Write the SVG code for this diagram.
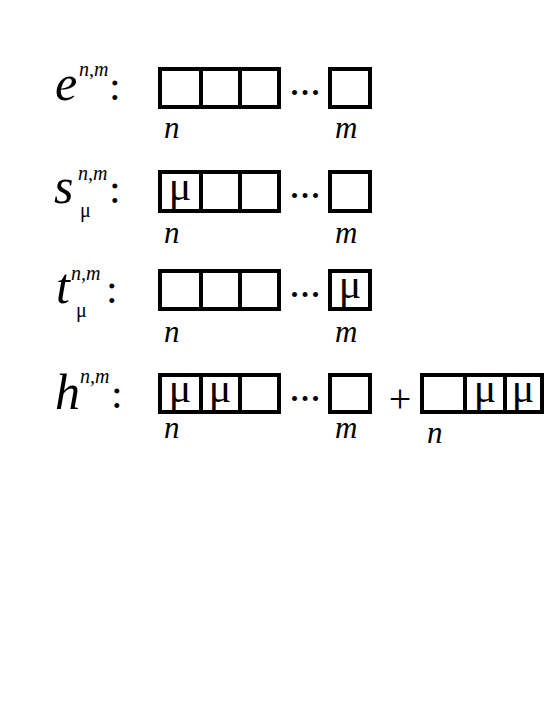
<svg xmlns="http://www.w3.org/2000/svg" width="554" height="717" viewBox="0 0 554 717">
<style>
.box{fill:none;stroke:#000;stroke-width:4}
.div{stroke:#000;stroke-width:4}
text{font-family:'Liberation Serif','Times New Roman',serif;fill:#000}
.it{font-style:italic}
.big{font-size:50px}
.sup{font-size:20px}
.sub{font-size:20px}
.col{font-size:42px}
.idx{font-size:31px}
.mu{font-size:42px;text-anchor:middle}
.dots{font-size:42px;text-anchor:middle}
.plus{font-size:40px;text-anchor:middle}
</style>
<rect width="554" height="717" fill="#fff"/>
<g id="row-e">
<text class="it big" x="55" y="100">e</text>
<text class="it sup" x="79" y="76">n,m</text>
<text class="col" x="109" y="100">:</text>
<rect class="box" x="160" y="69" width="119" height="38"/>
<line class="div" x1="201" y1="69" x2="201" y2="107"/>
<line class="div" x1="240" y1="69" x2="240" y2="107"/>
<text class="dots" x="305" y="95">...</text>
<rect class="box" x="330" y="69" width="40" height="38"/>
<text class="it idx" x="164" y="138">n</text>
<text class="it idx" x="335" y="138">m</text>
</g>
<g id="row-s">
<text class="it big" x="54" y="203">s</text>
<text class="it sup" x="78" y="180">n,m</text>
<text class="sub" x="80" y="217">μ</text>
<text class="col" x="109" y="203">:</text>
<rect class="box" x="160" y="172" width="119" height="39"/>
<line class="div" x1="201" y1="172" x2="201" y2="211"/>
<line class="div" x1="240" y1="172" x2="240" y2="211"/>
<text class="mu" x="180" y="200">μ</text>
<text class="dots" x="305" y="198">...</text>
<rect class="box" x="330" y="172" width="40" height="39"/>
<text class="it idx" x="164" y="243">n</text>
<text class="it idx" x="335" y="243">m</text>
</g>
<g id="row-t">
<text class="it big" x="56" y="303">t</text>
<text class="it sup" x="71" y="280">n,m</text>
<text class="sub" x="76" y="317">μ</text>
<text class="col" x="106" y="303">:</text>
<rect class="box" x="160" y="271" width="119" height="38"/>
<line class="div" x1="201" y1="271" x2="201" y2="309"/>
<line class="div" x1="240" y1="271" x2="240" y2="309"/>
<text class="dots" x="305" y="297">...</text>
<rect class="box" x="330" y="271" width="40" height="38"/>
<text class="mu" x="350" y="298">μ</text>
<text class="it idx" x="164" y="342">n</text>
<text class="it idx" x="335" y="342">m</text>
</g>
<g id="row-h">
<text class="it big" x="55" y="409">h</text>
<text class="it sup" x="80" y="383">n,m</text>
<text class="col" x="111" y="408">:</text>
<rect class="box" x="160" y="375" width="119" height="37"/>
<line class="div" x1="201" y1="375" x2="201" y2="412"/>
<line class="div" x1="240" y1="375" x2="240" y2="412"/>
<text class="mu" x="180" y="402">μ</text>
<text class="mu" x="220" y="402">μ</text>
<text class="dots" x="305" y="401">...</text>
<rect class="box" x="330" y="375" width="40" height="37"/>
<text class="plus" x="400" y="412">+</text>
<rect class="box" x="422" y="375" width="120" height="37"/>
<line class="div" x1="465" y1="375" x2="465" y2="412"/>
<line class="div" x1="505" y1="375" x2="505" y2="412"/>
<text class="mu" x="485" y="402">μ</text>
<text class="mu" x="523" y="402">μ</text>
<text class="it idx" x="164" y="438">n</text>
<text class="it idx" x="335" y="438">m</text>
<text class="it idx" x="427" y="443">n</text>
</g>
</svg>
